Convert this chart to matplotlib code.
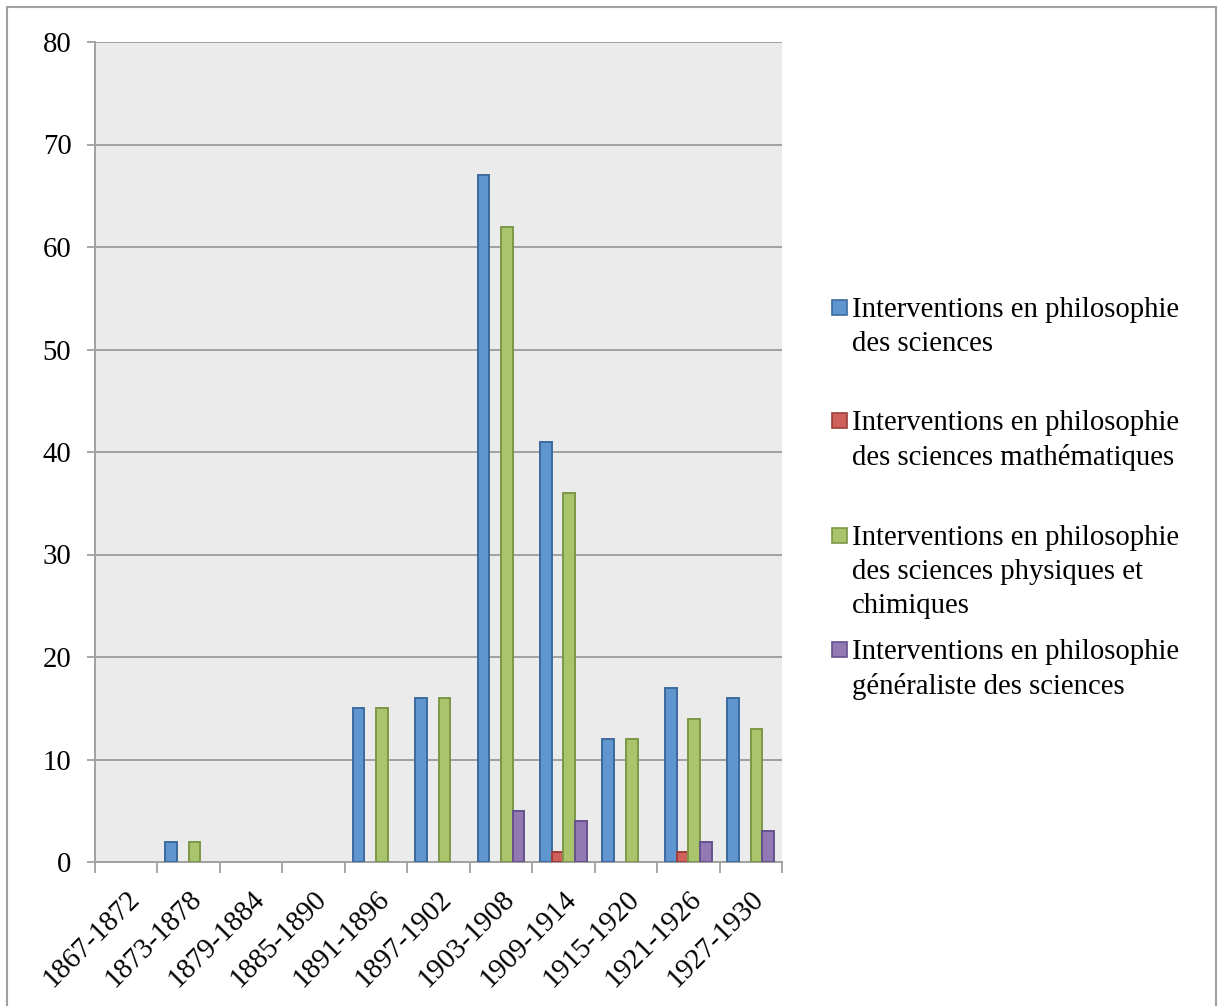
import numpy as np
import matplotlib
matplotlib.use("Agg")
import matplotlib.pyplot as plt
from matplotlib.patches import Rectangle

# data
periods = ["1867-1872", "1873-1878", "1879-1884", "1885-1890", "1891-1896",
           "1897-1902", "1903-1908", "1909-1914", "1915-1920", "1921-1926",
           "1927-1930"]
sciences = [0, 2, 0, 0, 15, 16, 67, 41, 12, 17, 16]
maths = [0, 0, 0, 0, 0, 0, 0, 1, 0, 1, 0]
physique = [0, 2, 0, 0, 15, 16, 62, 36, 12, 14, 13]
generaliste = [0, 0, 0, 0, 0, 0, 5, 4, 0, 2, 3]

labels = [
    "Interventions en philosophie\ndes sciences",
    "Interventions en philosophie\ndes sciences mathématiques",
    "Interventions en philosophie\ndes sciences physiques et\nchimiques",
    "Interventions en philosophie\ngénéraliste des sciences",
]
fills = ["#5f96cf", "#d0605a", "#a9c46b", "#9279b3"]
edges = ["#3d6a9e", "#9c3e3a", "#7b9748", "#65528c"]

plt.rcParams["font.family"] = ["Liberation Serif", "DejaVu Serif"]
FS = 20.7
GRAY = "#a0a0a0"

W, H = 1223, 1006
fig = plt.figure(figsize=(W / 100, H / 100), dpi=100)
ax = fig.add_axes([95 / W, 1 - 862 / H, (782 - 95) / W, (862 - 42) / H])
ax.set_facecolor("#ebebeb")

x = np.arange(len(periods))
w = 0.1875
series = [sciences, maths, physique, generaliste]
for i, vals in enumerate(series):
    off = (i - 1.5) * w
    xs = [xx + off for xx, v in zip(x, vals) if v > 0]
    hs = [v for v in vals if v > 0]
    ax.bar(xs, hs, width=w, color=fills[i], edgecolor=edges[i],
           linewidth=1.4, zorder=3)

ax.set_xlim(-0.5, len(periods) - 0.5)
ax.set_ylim(0, 80)
ax.set_yticks(range(0, 81, 10))
ax.yaxis.grid(True, color=GRAY, linewidth=1.4, zorder=1)
ax.set_axisbelow(True)

ax.set_xticks(x)
ax.set_xticklabels(periods, rotation=45, ha="right", va="top",
                   rotation_mode="anchor", fontsize=FS)
ax.set_xticks(np.arange(-0.5, len(periods)), minor=True)
ax.tick_params(axis="x", which="major", length=0, pad=17)
ax.tick_params(axis="x", which="minor", length=8, width=1.3, color=GRAY,
               direction="out")
ax.tick_params(axis="y", length=6, width=1.3, color=GRAY, pad=11,
               labelsize=FS)

for s in ["top", "right"]:
    ax.spines[s].set_visible(False)
for s in ["left", "bottom"]:
    ax.spines[s].set_color(GRAY)
    ax.spines[s].set_linewidth(1.4)

# legend drawn by hand so the square sits on the first line
leg_y = [307, 420, 535, 649]
for i, lab in enumerate(labels):
    yc = 1 - leg_y[i] / H
    fig.patches.append(Rectangle((832 / W, yc - 7.5 / H), 15 / W, 15 / H,
                                 transform=fig.transFigure,
                                 facecolor=fills[i], edgecolor=edges[i],
                                 linewidth=1.2))
    fig.text(852 / W, yc + 10 / H, lab, fontsize=FS, va="top", ha="left",
             linespacing=1.4)

# outer chart border
fig.patches.append(Rectangle((7 / W, -0.05), (1216 - 7) / W, 1.05 - 7 / H,
                             transform=fig.transFigure, fill=False,
                             edgecolor=GRAY, linewidth=1.5))

fig.savefig("out.png", dpi=100)
